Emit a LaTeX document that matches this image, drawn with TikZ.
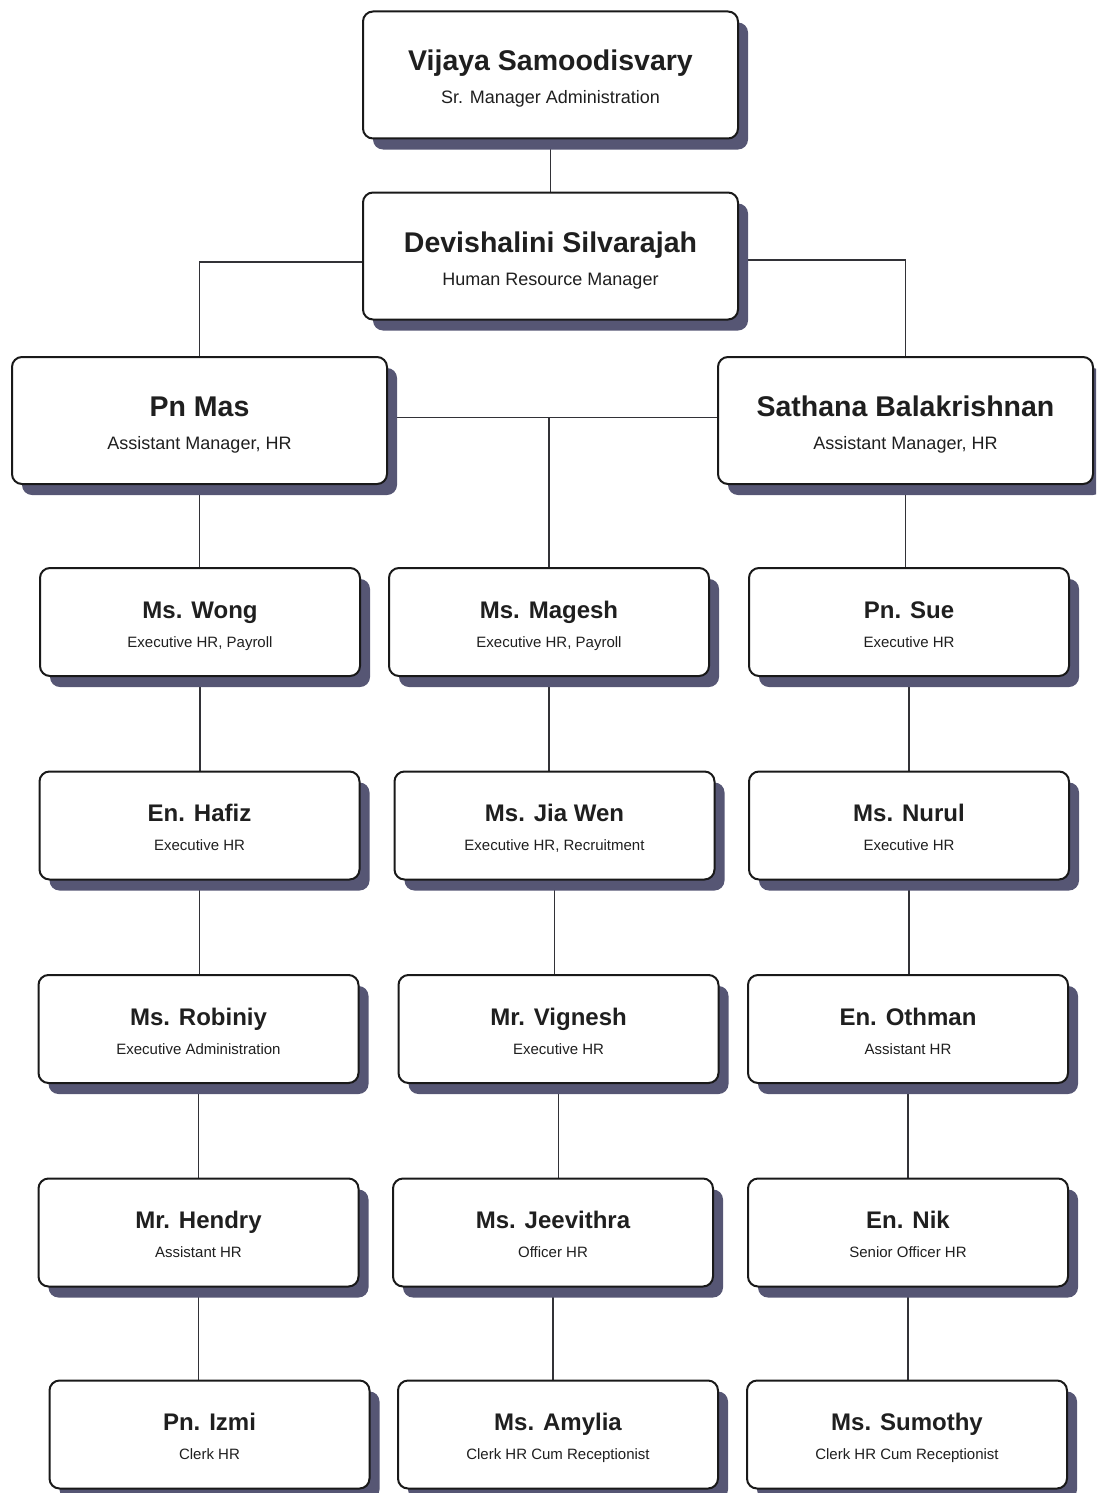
\documentclass[tikz,border=0pt]{standalone}
\usepackage{fontspec}
\setmainfont{Liberation Sans}
\usetikzlibrary{shadows,backgrounds}
\definecolor{shade}{RGB}{86,86,116}
\definecolor{wirec}{RGB}{50,50,55}
\def\bignm{\fontsize{28.5}{32}\selectfont\bfseries}
\def\bigrl{\fontsize{18}{21}\selectfont}
\def\nm{\fontsize{24}{27}\selectfont\bfseries}
\def\rl{\fontsize{15}{18}\selectfont}
% name and role, on fixed struts so every card sits alike
\def\bigwho#1#2{\rule[-10pt]{0pt}{42pt}{\bignm #1}\\\rule[-7pt]{0pt}{29pt}{\bigrl #2}}
\def\who#1#2{\rule[-8pt]{0pt}{36pt}{\nm #1}\\\rule[-7pt]{0pt}{27pt}{\rl #2}}

\begin{document}
\begin{tikzpicture}[x=1pt,y=-1pt,
  card/.style={draw=black!90, line width=2pt, rounded corners=10pt, fill=white, align=center, text=black!88,
    drop shadow={shadow xshift=10pt, shadow yshift=-11pt, fill=shade, opacity=1}},
  bigcard/.style={card, minimum width=375pt, minimum height=127pt},
  smallcard/.style={card, minimum width=320pt, minimum height=108pt},
  wire/.style={draw=wirec, line width=1.3pt}]
		%%%%% FRAME %%%%%
		\useasboundingbox (0,0) rectangle (1096,1493);
		\clip (0,0) rectangle (1096,1493);
		
		%%%%% MANAGERS %%%%%
		\node[bigcard] (vijaya) at (550.5,75) {\bigwho{Vijaya Samoodisvary}{Sr. Manager Administration}};
		\node[bigcard] (devi) at (550.5,256) {\bigwho{Devishalini Silvarajah}{Human Resource Manager}};
		\node[bigcard] (pnmas) at (199.5,420.5) {\bigwho{Pn Mas}{Assistant Manager, HR}};
		\node[bigcard] (sathana) at (905.5,420.5) {\bigwho{Sathana Balakrishnan}{Assistant Manager, HR}};
		
		%%%%% LEFT COLUMN %%%%%
		\node[smallcard] (wong) at (200,622) {\who{Ms. Wong}{Executive HR, Payroll}};
		\node[smallcard] (hafiz) at (199.5,825.5) {\who{En. Hafiz}{Executive HR}};
		\node[smallcard] (robiniy) at (198.5,1029) {\who{Ms. Robiniy}{Executive Administration}};
		\node[smallcard] (hendry) at (198.5,1232.5) {\who{Mr. Hendry}{Assistant HR}};
		\node[smallcard] (izmi) at (209.5,1434.5) {\who{Pn. Izmi}{Clerk HR}};
		
		%%%%% MIDDLE COLUMN %%%%%
		\node[smallcard] (magesh) at (549,622) {\who{Ms. Magesh}{Executive HR, Payroll}};
		\node[smallcard] (jiawen) at (554.5,825.5) {\who{Ms. Jia Wen}{Executive HR, Recruitment}};
		\node[smallcard] (vignesh) at (558.5,1029) {\who{Mr. Vignesh}{Executive HR}};
		\node[smallcard] (jeevithra) at (553,1232.5) {\who{Ms. Jeevithra}{Officer HR}};
		\node[smallcard] (amylia) at (558,1434.5) {\who{Ms. Amylia}{Clerk HR Cum Receptionist}};
		
		%%%%% RIGHT COLUMN %%%%%
		\node[smallcard] (sue) at (909,622) {\who{Pn. Sue}{Executive HR}};
		\node[smallcard] (nurul) at (909,825.5) {\who{Ms. Nurul}{Executive HR}};
		\node[smallcard] (othman) at (908,1029) {\who{En. Othman}{Assistant HR}};
		\node[smallcard] (nik) at (908,1232.5) {\who{En. Nik}{Senior Officer HR}};
		\node[smallcard] (sumothy) at (907,1434.5) {\who{Ms. Sumothy}{Clerk HR Cum Receptionist}};
		
		%%%%% LINKS %%%%%
		\coordinate (hub) at ([yshift=3pt]pnmas.east);
		\begin{scope}[on background layer]
			\draw[wire] (vijaya.south) -- (devi.north);
			\draw[wire] ([yshift=-6pt]devi.west) -| (pnmas.north);
			\draw[wire] ([yshift=-4pt]devi.east) -| (sathana.north);
			\draw[wire] (hub) -- (hub -| sathana.west);
			\draw[wire] (magesh.north) -- (magesh.north |- hub);
			\draw[wire] (pnmas.south) -- (pnmas.south |- wong.north);
			\draw[wire] (sathana.south) -- (sathana.south |- sue.north);
			\draw[wire] (wong.south) -- (wong.south |- hafiz.north);
			\draw[wire] (hafiz.south) -- (hafiz.south |- robiniy.north);
			\draw[wire] (robiniy.south) -- (robiniy.south |- hendry.north);
			\draw[wire] (hendry.south) -- (hendry.south |- izmi.north);
			\draw[wire] (magesh.south) -- (magesh.south |- jiawen.north);
			\draw[wire] (jiawen.south) -- (jiawen.south |- vignesh.north);
			\draw[wire] (vignesh.south) -- (vignesh.south |- jeevithra.north);
			\draw[wire] (jeevithra.south) -- (jeevithra.south |- amylia.north);
			\draw[wire] (sue.south) -- (sue.south |- nurul.north);
			\draw[wire] (nurul.south) -- (nurul.south |- othman.north);
			\draw[wire] (othman.south) -- (othman.south |- nik.north);
			\draw[wire] (nik.south) -- (nik.south |- sumothy.north);
		\end{scope}
	\end{tikzpicture}
\end{document}
